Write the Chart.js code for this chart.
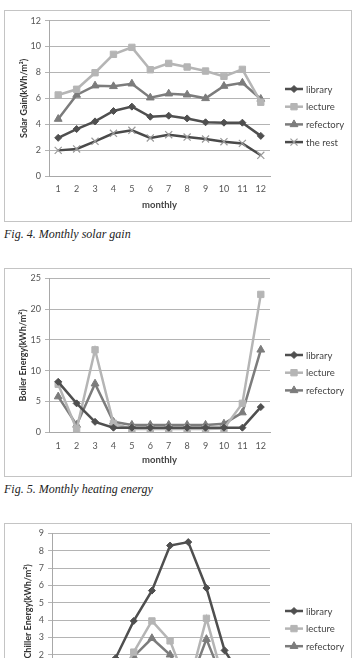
<!DOCTYPE html>
<html>
<head>
<meta charset="utf-8">
<script src="https://cdn.jsdelivr.net/npm/chart.js@4/dist/chart.umd.min.js"></script>
<style>
  html, body { margin: 0; padding: 0; background: #fff; }
  body { width: 355px; height: 658px; overflow: hidden; position: relative; }
  .box { position: absolute; left: 4px; width: 348px; border: 1px solid #c4c4c4; box-sizing: border-box; background: #fff; }
  .box canvas { display: block; }
  .cap { position: absolute; left: 4px; font-family: "Liberation Serif", "DejaVu Serif", serif; font-style: italic; font-size: 12px; color: #222; line-height: 14px; white-space: nowrap; }
</style>
</head>
<body>
<div class="box" id="b1" style="top:10px;height:212px;"><canvas id="c1"></canvas></div>
<div class="cap" style="top:227px;">Fig. 4. Monthly solar gain</div>
<div class="box" id="b2" style="top:268px;height:209px;"><canvas id="c2"></canvas></div>
<div class="cap" style="top:482px;">Fig. 5. Monthly heating energy</div>
<div class="box" id="b3" style="top:523px;height:209px;"><canvas id="c3"></canvas></div>
<script>
// ---- data ----
const months = ['1','2','3','4','5','6','7','8','9','10','11','12'];

// Fig. 4 Monthly solar gain (kWh/m2)
const solarLibrary   = [2.95, 3.63, 4.22, 5.02, 5.36, 4.58, 4.66, 4.45, 4.15, 4.12, 4.12, 3.1];
const solarLecture   = [6.26, 6.7, 7.98, 9.4, 9.94, 8.21, 8.7, 8.42, 8.11, 7.7, 8.24, 5.7];
const solarRefectory = [4.4, 6.26, 6.98, 6.93, 7.13, 6.05, 6.36, 6.28, 6.0, 6.95, 7.2, 5.95];
const solarRest      = [1.98, 2.09, 2.68, 3.3, 3.53, 2.94, 3.19, 3.01, 2.86, 2.65, 2.52, 1.6];

// Fig. 5 Monthly heating energy (kWh/m2)
const boilerLibrary   = [8.2, 4.7, 1.7, 0.75, 0.75, 0.75, 0.75, 0.75, 0.75, 0.75, 0.75, 4.1];
const boilerLecture   = [7.8, 0.5, 13.4, 1.45, 0.55, 0.55, 0.55, 0.55, 0.55, 0.6, 4.7, 22.4];
const boilerRefectory = [5.8, 1.2, 7.9, 1.7, 1.2, 1.2, 1.2, 1.2, 1.2, 1.4, 3.2, 13.4];

// Fig. 6 Monthly chiller energy (kWh/m2)
const chillerLibrary   = [0, 0, 0.3, 1.8, 3.95, 5.7, 8.3, 8.5, 5.85, 2.25, 0.6, 0];
const chillerLecture   = [0, 0, 0, 0.3, 2.15, 3.95, 2.8, 0.1, 4.1, 0.3, 0, 0];
const chillerRefectory = [0, 0, 0, 0.2, 1.9, 2.95, 2.0, 0.1, 2.9, 0.3, 0, 0];

const seriesNames = ['library', 'lecture', 'refectory', 'the rest'];
const yTitleSolar = 'Solar Gain(kWh/m\u00B2)';
const yTitleBoiler = 'Boiler Energy(kWh/m\u00B2)';
const yTitleChiller = 'Chiller Energy(kWh/m\u00B2)';
const xTitle = 'monthly';

// ---- styles ----
const FONT = 'Lato, "Open Sans", "Liberation Sans", sans-serif';
const STY = {
  'library':   { color: '#4f4f4f', pointStyle: 'rectRot', radius: 3.5, pb: '#4f4f4f', pbw: 1 },
  'lecture':   { color: '#b5b5b5', pointStyle: 'rect', radius: 4.5, pb: '#b5b5b5', pbw: 1 },
  'refectory': { color: '#7c7c7c', pointStyle: 'triangle', radius: 4.5, pb: '#7c7c7c', pbw: 1 },
  'the rest':  { color: '#4a4a4a', pointStyle: 'crossRot', radius: 5, pb: '#9a9a9a', pbw: 1.2 }
};

function ds(name, data) {
  const s = STY[name];
  return {
    label: name, data: data,
    borderColor: s.color, backgroundColor: s.color, borderWidth: 2.5,
    pointStyle: s.pointStyle, pointRadius: s.radius,
    pointBackgroundColor: s.color, pointBorderColor: s.pb, pointBorderWidth: s.pbw,
    tension: 0, fill: false
  };
}

function drawMarker(ctx, s, x, y) {
  ctx.save();
  ctx.fillStyle = s.color; ctx.strokeStyle = s.pb; ctx.lineWidth = s.pbw;
  if (window.Chart && Chart.helpers && Chart.helpers.drawPoint) {
    Chart.helpers.drawPoint(ctx, { pointStyle: s.pointStyle, radius: s.radius, borderWidth: s.pbw, rotation: 0 }, x, y);
  } else {
    ctx.beginPath(); ctx.arc(x, y, s.radius, 0, Math.PI * 2); ctx.fill();
  }
  ctx.restore();
}

const legendPlugin = {
  id: 'sideLegend',
  afterDraw(chart, args, opts) {
    const ctx = chart.ctx;
    chart.data.datasets.forEach((d, i) => {
      const s = STY[d.label];
      const y = opts.y0 + i * opts.dy;
      ctx.save();
      ctx.strokeStyle = s.color; ctx.lineWidth = 2.5;
      ctx.beginPath(); ctx.moveTo(opts.x, y); ctx.lineTo(opts.x + 18, y); ctx.stroke();
      ctx.restore();
      drawMarker(ctx, s, opts.x + 9, y);
      ctx.save();
      ctx.fillStyle = '#444'; ctx.font = '9.5px ' + FONT; ctx.textBaseline = 'middle'; ctx.textAlign = 'left';
      ctx.fillText(d.label, opts.x + 21, y + 0.5);
      ctx.restore();
    });
  }
};

function makeChart(id, w, h, cfg) {
  const cv = document.getElementById(id);
  cv.width = w; cv.height = h; cv.style.width = w + 'px'; cv.style.height = h + 'px';
  return new Chart(cv, {
    type: 'line',
    data: { labels: months, datasets: cfg.datasets },
    plugins: [legendPlugin],
    options: {
      responsive: false, animation: false, devicePixelRatio: 1,
      layout: { padding: { left: 0, right: cfg.padRight, top: cfg.padTop, bottom: 0 } },
      plugins: {
        legend: { display: false }, tooltip: { enabled: false },
        sideLegend: cfg.legend
      },
      scales: {
        x: {
          offset: true,
          grid: { display: false, drawTicks: false, tickLength: 0 },
          border: { display: true, color: '#a8a8a8', width: 1 },
          ticks: { color: '#555', font: { family: FONT, size: 9 }, padding: 8, maxRotation: 0, autoSkip: false },
          title: { display: true, text: xTitle, color: '#444', font: { family: FONT, size: 9.5, weight: 'bold' }, padding: { top: 0, bottom: 10.5 } },
          afterFit(scale) { scale.height = cfg.xHeight; }
        },
        y: {
          min: 0, max: cfg.yMax,
          ticks: { stepSize: cfg.yStep, color: '#555', font: { family: FONT, size: 9 }, padding: 4 },
          grid: { color: '#b4b4b4', lineWidth: 1, drawTicks: true, tickLength: 4 },
          border: { display: true, color: '#a8a8a8', width: 1 },
          title: { display: true, text: cfg.yTitle, color: '#333', font: { family: FONT, size: 9, weight: 'bold' }, padding: { top: cfg.yTitlePad, bottom: 0 } },
          afterFit(scale) { scale.width = cfg.yWidth; }
        }
      }
    }
  });
}

makeChart('c1', 346, 210, {
  datasets: [ds('library', solarLibrary), ds('lecture', solarLecture), ds('refectory', solarRefectory), ds('the rest', solarRest)],
  yMax: 12, yStep: 2, yTitle: yTitleSolar, yTitlePad: 13.6, yWidth: 44,
  padRight: 81, padTop: 9.7, xHeight: 45,
  legend: { x: 280, y0: 78, dy: 17.7 }
});

makeChart('c2', 346, 207, {
  datasets: [ds('library', boilerLibrary), ds('lecture', boilerLecture), ds('refectory', boilerRefectory)],
  yMax: 25, yStep: 5, yTitle: yTitleBoiler, yTitlePad: 12.6, yWidth: 44,
  padRight: 81, padTop: 8.7, xHeight: 43.7,
  legend: { x: 280, y0: 86, dy: 17.7 }
});

makeChart('c3', 346, 207, {
  datasets: [ds('library', chillerLibrary), ds('lecture', chillerLecture), ds('refectory', chillerRefectory)],
  yMax: 9, yStep: 1, yTitle: yTitleChiller, yTitlePad: 17.6, yWidth: 47,
  padRight: 81, padTop: 9.3, xHeight: 41.6,
  legend: { x: 280, y0: 87, dy: 17.6 }
});
</script>
</body>
</html>
